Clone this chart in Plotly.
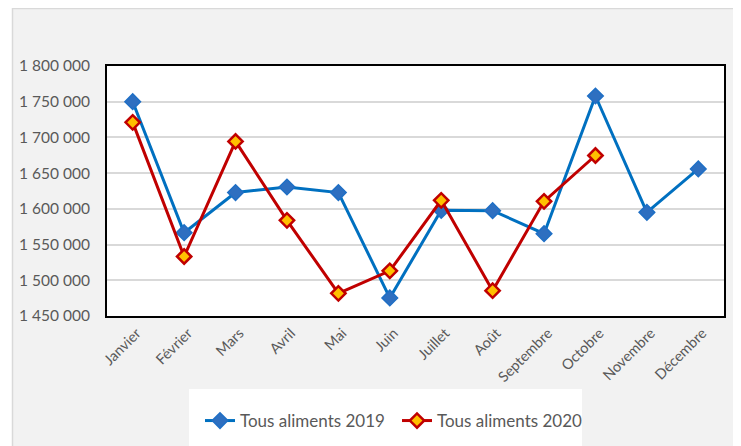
import plotly.graph_objects as go

months = ["Janvier", "Février", "Mars", "Avril", "Mai", "Juin", "Juillet",
          "Août", "Septembre", "Octobre", "Novembre", "Décembre"]
values_2019 = [1750000, 1566600, 1622800, 1630600, 1622800, 1475300, 1597900,
               1597500, 1565200, 1758000, 1595100, 1655900]
values_2020 = [1721100, 1533300, 1694400, 1583900, 1481700, 1513200, 1611900,
               1485500, 1610500, 1674700]
name_2019 = "Tous aliments 2019"
name_2020 = "Tous aliments 2020"
y_min, y_max, y_step = 1450000, 1800000, 50000

FONT = "Lato"
GREY_TXT = "#595959"

fig = go.Figure()
fig.add_trace(go.Scatter(
    x=months, y=values_2019, name=name_2019, mode="lines+markers",
    line=dict(color="#0070C0", width=3),
    marker=dict(symbol="diamond", size=12, color="#2E6FC0",
                line=dict(color="#1F6FC5", width=1.5)),
))
fig.add_trace(go.Scatter(
    x=months[:len(values_2020)], y=values_2020, name=name_2020, mode="lines+markers",
    line=dict(color="#C00000", width=3),
    marker=dict(symbol="diamond", size=11, color="#FFC000",
                line=dict(color="#C00000", width=2.5)),
))

# The page body has an 8 px margin: figure coords = screen coords - 8
OFF = 8
FW, FH = 741 - OFF, 446 - OFF
L, R, T, B = 107 - OFF, 724 - OFF, 66 - OFF, 316 - OFF
W, H = R - L, B - T
def px(x):  # screen x -> paper
    return (x - OFF - L) / W
def py(y):  # screen y -> paper
    return (B - (y - OFF)) / H

shapes = [
    dict(type="rect", xref="paper", yref="paper", x0=px(0), x1=px(12), y0=py(460), y1=py(0),
         fillcolor="white", line=dict(width=0), layer="below"),
    dict(type="line", xref="paper", yref="paper", x0=px(12.5), x1=px(12.5), y0=py(8), y1=py(460),
         line=dict(color="#D9D9D9", width=1.5), layer="below"),
    dict(type="line", xref="paper", yref="paper", x0=px(12), x1=px(760), y0=py(8.6), y1=py(8.6),
         line=dict(color="#D9D9D9", width=1.5), layer="below"),
    dict(type="rect", xref="paper", yref="paper", x0=px(189), x1=px(582), y0=py(389), y1=py(460),
         fillcolor="white", line=dict(width=0), layer="below"),
]

fig.update_layout(
    width=FW, height=FH,
    margin=dict(l=L, r=FW - R, t=T, b=FH - B, autoexpand=False),
    paper_bgcolor="#F2F2F2",
    plot_bgcolor="white",
    separators=", ",
    font=dict(family=FONT, color=GREY_TXT),
    showlegend=True,
    legend=dict(orientation="h", x=px(200), xanchor="left", y=py(421), yanchor="middle",
                bgcolor="rgba(0,0,0,0)", font=dict(size=17, color=GREY_TXT, family=FONT),
                itemclick=False, tracegroupgap=0, entrywidth=152, entrywidthmode="pixels"),
    shapes=shapes,
)
fig.update_xaxes(
    type="category", range=[-0.5, len(months) - 0.5], automargin=False,
    tickangle=-45, tickfont=dict(size=14.5, color=GREY_TXT, family=FONT),
    showgrid=False, showline=True, linecolor="black", linewidth=2, mirror=True,
    ticks="outside", ticklen=1, tickcolor="rgba(0,0,0,0)", ticklabelshift=4,
)
fig.update_yaxes(
    range=[y_min, y_max], dtick=y_step, tick0=y_min, tickformat=",d", automargin=False,
    tickfont=dict(size=15.5, color=GREY_TXT, family=FONT),
    showgrid=True, gridcolor="#D9D9D9", gridwidth=1.5,
    showline=True, linecolor="black", linewidth=2, mirror=True,
    ticks="outside", ticklen=12, tickcolor="rgba(0,0,0,0)", zeroline=False,
)

fig.write_html("out.html")
